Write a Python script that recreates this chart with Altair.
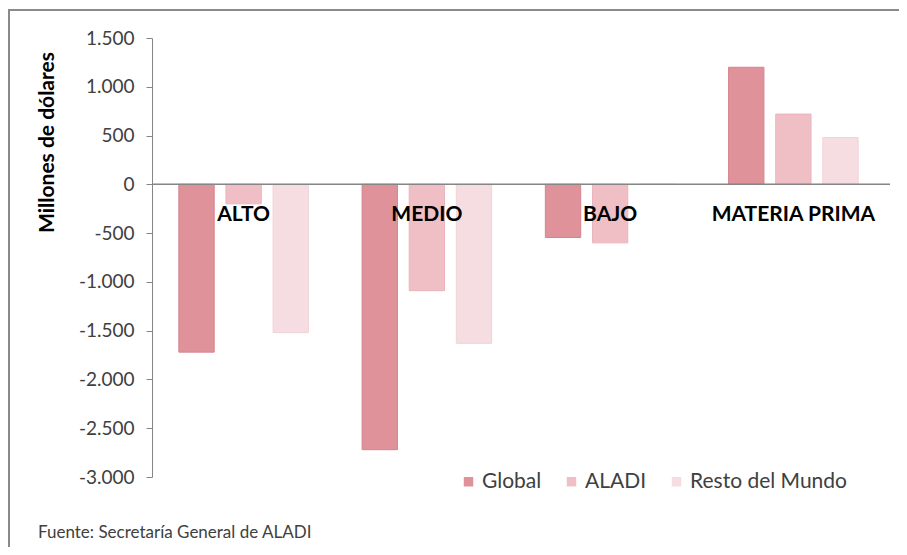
import altair as alt
import pandas as pd

categories = ["ALTO", "MEDIO", "BAJO", "MATERIA PRIMA"]
series = ["Global", "ALADI", "Resto del Mundo"]
global_vals = [-1720, -2720, -545, 1200]
aladi_vals = [-200, -1090, -600, 720]
resto_vals = [-1520, -1630, 0, 480]
y_ticks = [1500, 1000, 500, 0, -500, -1000, -1500, -2000, -2500, -3000]
colors = ["#e0929b", "#f0bfc6", "#f6dde1"]
strokes = ["#d3838e", "#eab4bc", "#f1d3d8"]

rows = []
for i, c in enumerate(categories):
    for s, vals in zip(series, [global_vals, aladi_vals, resto_vals]):
        rows.append({"cat": c, "serie": s, "valor": vals[i]})
df = pd.DataFrame(rows)
cat_df = pd.DataFrame({"cat": categories, "zero": [0] * len(categories)})
note_df = pd.DataFrame({"t": ["Fuente: Secretaría General de ALADI"]})

W, H = 733, 439
FONT = "Lato"

xscale = alt.Scale(domain=categories, paddingInner=0, paddingOuter=0)
yscale = alt.Scale(domain=[-3000, 1500], nice=False)

bars = alt.Chart(df).mark_bar(strokeWidth=1).encode(
    x=alt.X("cat:N", scale=xscale, axis=None, sort=categories),
    xOffset=alt.XOffset("serie:N", sort=series,
                        scale=alt.Scale(domain=series, paddingInner=0.25, paddingOuter=0.57)),
    y=alt.Y("valor:Q", scale=yscale,
            axis=alt.Axis(values=y_ticks, grid=False, title="Millones de dólares",
                          titleFont=FONT, titleFontSize=21, titleFontWeight="bold",
                          titleColor="#000000", titleAngle=270,
                          titleAlign="center", titleBaseline="middle",
                          titleX=-105, titleY=104,
                          labelFont=FONT, labelFontSize=19, labelColor="#404040",
                          labelPadding=12, tickSize=6, tickColor="#868686",
                          domainColor="#868686",
                          labelExpr="replace(replace(format(datum.value, ','), ',', '.'), '\u2212', '-')")),
    color=alt.Color("serie:N", sort=series,
                    scale=alt.Scale(domain=series, range=colors),
                    legend=alt.Legend(title=None, orient="none", direction="horizontal",
                                      legendX=306, legendY=433, symbolType="square",
                                      symbolSize=90, labelFont=FONT, labelFontSize=21,
                                      labelColor="#404040", columnPadding=19,
                                      labelOffset=3, symbolStrokeWidth=0)),
    stroke=alt.Stroke("serie:N", sort=series,
                      scale=alt.Scale(domain=series, range=strokes), legend=None),
)

zero = alt.Chart(cat_df).mark_rule(color="#868686", strokeWidth=1).encode(
    y=alt.Y("zero:Q", scale=yscale), x=alt.value(0), x2=alt.value(W + 5)
)

labels = alt.Chart(cat_df).mark_text(font=FONT, fontSize=21, fontWeight="bold",
                                     color="#000000", dy=31, baseline="middle").encode(
    x=alt.X("cat:N", scale=xscale, sort=categories),
    y=alt.Y("zero:Q", scale=yscale),
    text="cat:N",
)

note = alt.Chart(note_df).mark_text(font=FONT, fontSize=17, color="#404040",
                                    align="left", baseline="middle").encode(
    x=alt.value(-114), y=alt.value(495), text="t:N"
)

frame = alt.Chart(note_df).mark_rect(filled=False, stroke="#8a8a8a", strokeWidth=2).encode(
    x=alt.value(-143), x2=alt.value(800), y=alt.value(-28), y2=alt.value(560)
)

chart = alt.layer(frame, bars, zero, labels, note).properties(
    width=W, height=H,
    padding={"left": 144, "top": 30, "right": 14, "bottom": 70},
    autosize=alt.AutoSizeParams(type="none"),
).configure(background="#ffffff").configure_view(stroke=None)

chart.save("out.html", embed_options={"renderer": "svg", "actions": False})
